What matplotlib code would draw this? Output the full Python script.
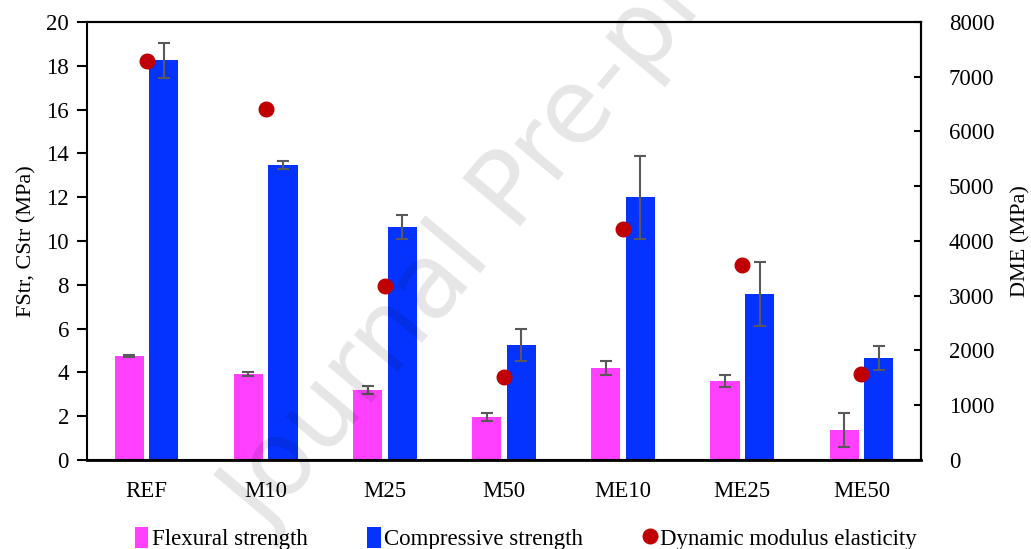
import matplotlib
matplotlib.use("Agg")
import matplotlib.pyplot as plt
import numpy as np

plt.rcParams["font.family"] = "Liberation Serif"

# Datos
mezclas = ["REF", "M10", "M25", "M50", "ME10", "ME25", "ME50"]
flexion = [4.75, 3.92, 3.20, 1.98, 4.18, 3.62, 1.38]
flexion_err = [0.05, 0.10, 0.20, 0.18, 0.32, 0.28, 0.78]
compresion = [18.25, 13.45, 10.65, 5.25, 12.0, 7.58, 4.67]
compresion_err = [0.80, 0.18, 0.55, 0.75, 1.90, 1.45, 0.55]
dme = [7290, 6410, 3180, 1520, 4210, 3570, 1570]

fig = plt.figure(figsize=(10.31, 5.49), dpi=100)
ax = fig.add_axes([0.0844, 0.1621, 0.8089, 0.7979])
ax2 = ax.twinx()

x = np.arange(len(mezclas))
ancho = 0.245
sep = 0.145

err_kw = dict(ecolor="#595959", elinewidth=1.5, capsize=4.5, capthick=1.5)
ax.bar(x - sep, flexion, ancho, yerr=flexion_err, color="#FF40FF",
       label="Flexural strength", error_kw=err_kw, zorder=2)
ax.bar(x + sep, compresion, ancho, yerr=compresion_err, color="#0433FF",
       label="Compressive strength", error_kw=err_kw, zorder=2)
ax2.plot(x, dme, linestyle="", marker="o", markersize=10.5, color="#C00000",
         label="Dynamic modulus elasticity")

# configurar ejes
ax.set_xlim(-0.5, len(mezclas) - 0.5)
ax.set_ylim(0, 20)
ax.set_yticks(np.arange(0, 21, 2))
ax2.set_ylim(0, 8000)
ax2.set_yticks(np.arange(0, 8001, 1000))
ax.set_xticks(x)
ax.set_xticklabels(mezclas)
ax.tick_params(axis="x", length=0, labelsize=16.5, pad=15)
ax.tick_params(axis="y", direction="out", length=7, width=1.5, labelsize=16.5, pad=6)
ax2.tick_params(axis="y", direction="in", length=5, width=1.5, labelsize=16.5, pad=20)
for a in (ax, ax2):
    for s in a.spines.values():
        s.set_linewidth(1.5)
ax2.spines["left"].set_visible(False)
ax2.spines["bottom"].set_linewidth(2)
ax.set_ylabel("FStr, CStr (MPa)", fontsize=16, labelpad=7)
ax2.set_ylabel("DME (MPa)", fontsize=16, labelpad=12)

# leyenda abajo
h1, l1 = ax.get_legend_handles_labels()
h2, l2 = ax2.get_legend_handles_labels()
fig.legend(h1 + h2, l1 + l2, loc="lower center", bbox_to_anchor=(0.51, -0.04),
           ncol=3, frameon=False, fontsize=16.5, handlelength=0.6, handleheight=1.0,
           handletextpad=0.15, columnspacing=2.6)

# marca de agua
fig.text(0.275, 0.0, "Journal Pre-proof", fontsize=74, family="DejaVu Sans",
         color="black", alpha=0.1, rotation=50, rotation_mode="anchor",
         ha="left", va="bottom", zorder=10)

plt.savefig("out.png", dpi=100)
